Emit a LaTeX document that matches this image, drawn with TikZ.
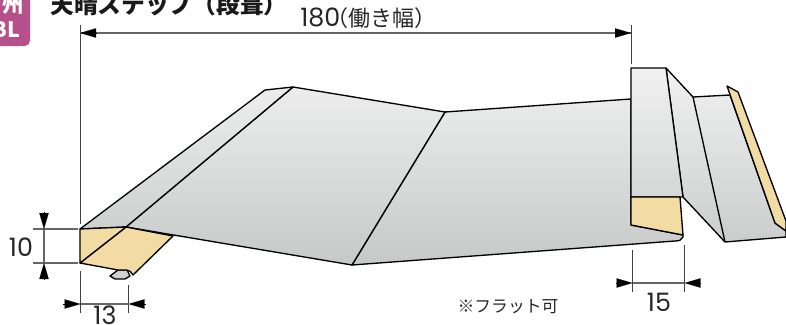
\documentclass[tikz,border=0pt]{standalone}
\usepackage{fontspec}
\setmainfont{Noto Sans CJK JP}
\newfontfamily\digfont{Poppins}
\usetikzlibrary{arrows.meta}
\definecolor{ycol}{HTML}{F3DCA3}
\definecolor{dimc}{HTML}{666666}
\definecolor{badge}{HTML}{B5508A}
\newcommand{\gradpoly}[1]{%
  \begin{scope}\clip #1;\shade[top color=gt,bottom color=gb] (0,62) rectangle (786,268);\end{scope}
  \draw[edge] #1;}
\definecolor{gt}{HTML}{F2F2F2}
\definecolor{gb}{HTML}{C6C8C8}
\tikzset{
  edge/.style={black,line width=1pt,line join=round},
  yface/.style={edge,fill=ycol},
  dimline/.style={dimc,line width=1pt},
  extline/.style={black!75,line width=0.7pt},
  tip/.style={-{Triangle[length=12pt,width=7pt]},black,line width=0.1pt},
  dimtext/.style={font=\fontsize{16.5pt}{18pt}\selectfont,text=black!85,inner sep=0pt},
  dignum/.style={font=\fontsize{19pt}{20pt}\digfont,text=black!85,inner sep=0pt}
}
\begin{document}
\begin{tikzpicture}[x=0.75pt,y=-0.75pt]
\useasboundingbox (0,0) rectangle (786,325);
\clip (0,0) rectangle (786,325);
% badge
\fill[badge,rounded corners=4pt] (-10,-10) rectangle (30,46);
\node[font=\fontsize{16pt}{18pt}\selectfont\bfseries,text=white,inner sep=0pt] (bdgA) at (13,5) {州};
\node[font=\fontsize{16pt}{18pt}\selectfont\bfseries,text=white,inner sep=0pt] (bdgB) at (6,30) {BL};
% title
\node[anchor=base west,font=\fontsize{17.8pt}{20pt}\selectfont\bfseries,inner sep=0pt,text=black!90] (title) at (50,13) {天晴ステップ（段葺）};
% back right panel
\gradpoly{(666,68) -- (693,97) -- (730,95) -- (775,223) -- (786,231) -- (786,237) -- (725,242) -- (683,197) -- cycle}
\draw[edge] (693,97) -- (725,242);
% yellow far-right strip
\draw[yface] (727,86) -- (738,92) -- (786,221) -- (786,231) -- (775,223) -- cycle;
% panels
\gradpoly{(445,112) -- (631,99) -- (631,225) -- (683,235) -- (683,237) .. controls (682,240) and (679,241) .. (675,241) -- (352,265) -- cycle}
\gradpoly{(126,227) -- (293,87) -- (445,112) -- (352,265) -- cycle}
\gradpoly{(80,229) -- (265,90) -- (293,87) -- (126,227) -- cycle}
% front tall panel
\gradpoly{(631,68) -- (666,68) -- (683,197) -- (631,197) -- cycle}
\draw[yface] (631,197) -- (680,197) -- (683,235) -- (631,225) -- cycle;
% left yellow faces
\draw[edge,fill=gb!85!white] (118,270) -- (110,276) -- (115,279) -- (125,279) -- (130,276) -- (127,270) -- cycle;
\draw[yface] (126,227) -- (173,236) -- (133,275) .. controls (131,272) and (129,270) .. (127,270) -- (118,270) -- (80,263) -- cycle;
\draw[yface] (80,229) -- (126,227) -- (80,263) -- cycle;
% dimensions
\coordinate (a1) at (80,25); \coordinate (a2) at (80,224);
\coordinate (b1) at (631,25); \coordinate (b2) at (631,64);
\draw[extline] (a1) -- (a2); \draw[extline] (b1) -- (b2);
\coordinate (dl) at (80,33); \coordinate (dr) at (631,33);
\coordinate (dla) at (96,33); \coordinate (dra) at (615,33);
\draw[dimline] (dl) -- (dr);
\draw[tip] (dla) -- (dl);
\draw[tip] (dra) -- (dr);
\node[dimtext,anchor=west] (n180) at (300,18) {{\fontsize{19pt}{20pt}\digfont 180}\kern-10pt（働き幅）};
% 10
\coordinate (c1) at (33,229); \coordinate (c2) at (78,229);
\coordinate (d1) at (33,263); \coordinate (d2) at (78,263);
\draw[dimline] (c1) -- (c2); \draw[dimline] (d1) -- (d2);
\coordinate (vt) at (44,229); \coordinate (vb) at (44,263);
\coordinate (vta) at (44,212); \coordinate (vba) at (44,280);
\draw[dimline] (vt) -- (vb);
\draw[tip] (vta) -- (vt);
\draw[tip] (vba) -- (vb);
\node[dignum] (n10) at (21,247) {10};
% 13
\coordinate (e1) at (80.5,271); \coordinate (e2) at (80.5,313);
\coordinate (f1) at (128.5,285); \coordinate (f2) at (128.5,313);
\draw[extline] (e1) -- (e2); \draw[extline] (f1) -- (f2);
\coordinate (hl) at (80.5,304); \coordinate (hr) at (128.5,304);
\coordinate (hla) at (63,304); \coordinate (hra) at (146,304);
\draw[dimline] (hl) -- (hr);
\draw[tip] (hla) -- (hl);
\draw[tip] (hra) -- (hr);
\node[dignum] (n13) at (105,315) {13};
% 15
\coordinate (g1) at (632.5,250); \coordinate (g2) at (632.5,292);
\coordinate (h1) at (684.5,245); \coordinate (h2) at (684.5,292);
\draw[extline] (g1) -- (g2); \draw[extline] (h1) -- (h2);
\coordinate (il) at (632.5,283); \coordinate (ir) at (684.5,283);
\coordinate (ila) at (616,283); \coordinate (ira) at (701,283);
\draw[dimline] (il) -- (ir);
\draw[tip] (ila) -- (il);
\draw[tip] (ira) -- (ir);
\node[dignum] (n15) at (659,302) {15};
% note
\node[font=\fontsize{12.6pt}{14pt}\selectfont,text=black!85,inner sep=0pt] (note) at (508,307) {※フラット可};
\end{tikzpicture}
\end{document}
